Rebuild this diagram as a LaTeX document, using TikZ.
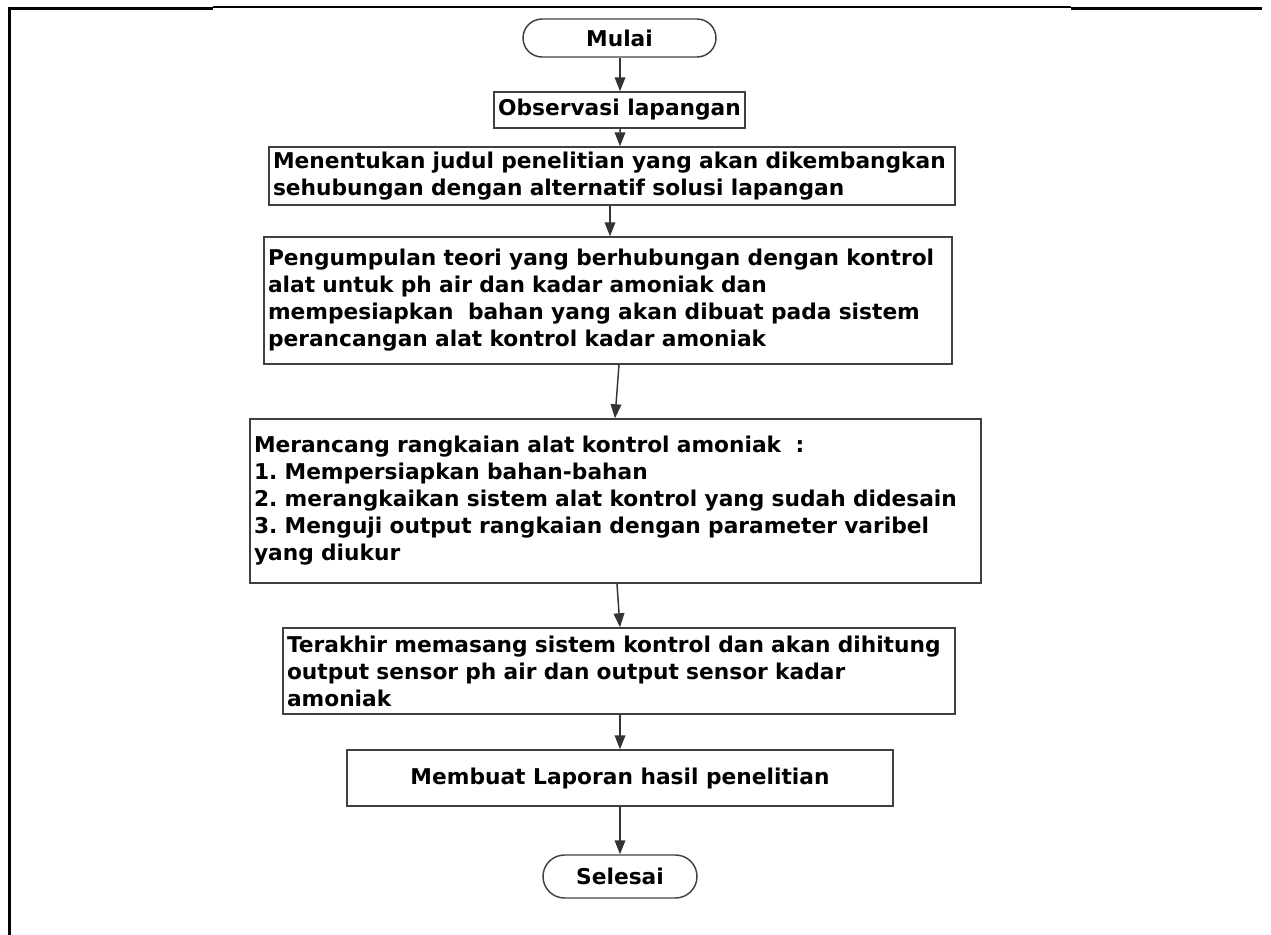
\documentclass[tikz,border=0pt]{standalone}
\usepackage{fontspec}
\setmainfont{DejaVu Sans}
\usetikzlibrary{arrows.meta,shapes.misc}
\frenchspacing
\begin{document}
\begin{tikzpicture}[x=0.75pt,y=-0.75pt,
  font=\fontsize{16.3}{20.25}\selectfont\bfseries,
  frameline/.style={line width=2.25pt,black},
  thinline/.style={line width=1.1pt,black},
  procbox/.style={draw=black!75,line width=1.1pt,rectangle,inner xsep=3pt,inner ysep=0pt,align=left},
  termbox/.style={draw=black!75,line width=1.1pt,rounded rectangle,inner sep=0pt,align=center},
  flow/.style={draw=black!80,line width=1.1pt,-{Triangle[length=10.5pt,width=8pt]}}]
\useasboundingbox (0,0) rectangle (1271,935);
% page frame
\draw[frameline] (8,8) -- (213,8);
\draw[thinline] (213,7) -- (1071,7);
\draw[frameline] (1071,8) -- (1262,8);
\draw[frameline] (9.3,7) -- (9.3,935);
% nodes
\node[termbox,minimum width=144.75pt,minimum height=28.5pt] (mulai) at (619.5,38) {Mulai};
\node[procbox,minimum width=185.25pt,minimum height=27pt,align=center] (obs) at (619.5,110) {Observasi lapangan};
\node[procbox,text width=508.5pt,minimum height=43.5pt] (b3) at (612,176)
  {Menentukan judul penelitian yang akan dikembangkan\\sehubungan dengan alternatif solusi lapangan};
\node[procbox,text width=510pt,minimum height=95.25pt] (b4) at (608,300.5)
  {Pengumpulan teori yang berhubungan dengan kontrol\\alat untuk ph air dan kadar amoniak dan\\mempesiapkan\ \ bahan yang akan dibuat pada sistem\\perancangan alat kontrol kadar amoniak};
\node[procbox,text width=542.25pt,minimum height=123pt] (b5) at (615.5,501)
  {Merancang rangkaian alat kontrol amoniak\ \ :\\1. Mempersiapkan bahan-bahan\\2. merangkaikan sistem alat kontrol yang sudah didesain\\3. Menguji output rangkaian dengan parameter varibel\\yang diukur};
\node[procbox,text width=498pt,minimum height=64.5pt] (b6) at (619,671)
  {Terakhir memasang sistem kontrol dan akan dihitung\\output sensor ph air dan output sensor kadar\\amoniak};
\node[procbox,minimum width=409.5pt,minimum height=42pt,align=center] (b7) at (620,778)
  {Membuat Laporan hasil penelitian};
\node[termbox,minimum width=115.5pt,minimum height=32.25pt] (selesai) at (620,876.5) {Selesai};
% connectors
\draw[flow] ([xshift=0.4pt]mulai.south) -- ([xshift=0.4pt]obs.north);
\draw[flow] ([xshift=0.4pt]obs.south) -- ([xshift=6pt]b3.north);
\draw[flow] ([xshift=-1.5pt]b3.south) -- ([xshift=1.5pt]b4.north);
\draw[flow] ([xshift=8.25pt]b4.south) -- ([xshift=-0.4pt]b5.north);
\draw[flow] ([xshift=1.1pt]b5.south) -- ([xshift=0.75pt]b6.north);
\draw[flow] ([xshift=0.75pt]b6.south) -- (b7.north);
\draw[flow] (b7.south) -- (selesai.north);
\end{tikzpicture}
\end{document}
